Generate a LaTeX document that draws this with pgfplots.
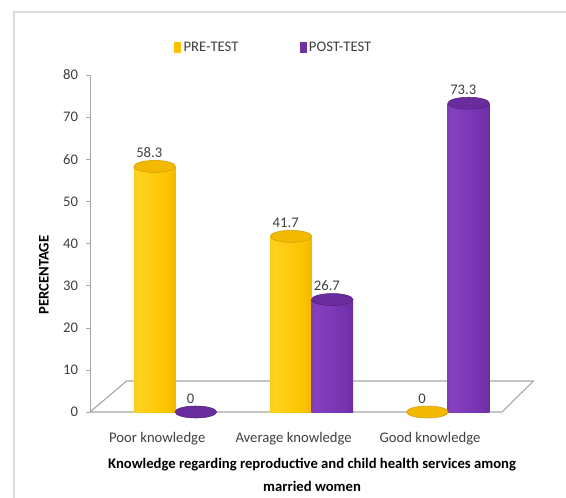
\documentclass[border=0pt]{standalone}
\usepackage{fontspec}
\setmainfont{Carlito}
\usepackage{pgfplots}
\pgfplotsset{compat=1.18}
\usepackage{pgfplotstable}
\definecolor{goldE}{HTML}{EAB000}
\definecolor{goldL}{HTML}{FFD21E}
\definecolor{goldM}{HTML}{FBC300}
\definecolor{goldD}{HTML}{D69C00}
\definecolor{goldT}{HTML}{F3B800}
\definecolor{purpE}{HTML}{6A2C9E}
\definecolor{purpL}{HTML}{8440BF}
\definecolor{purpM}{HTML}{7633AE}
\definecolor{purpD}{HTML}{55207F}
\definecolor{purpT}{HTML}{6A2C9C}
\definecolor{gold}{HTML}{FFC000}
\definecolor{purp}{HTML}{7030A0}
\definecolor{txt}{HTML}{404040}
\definecolor{framec}{HTML}{DADADA}
\definecolor{floorc}{HTML}{A6A6A6}

\pgfdeclarehorizontalshading{cylY}{100bp}{color(0bp)=(goldE); color(30bp)=(goldL); color(65bp)=(goldM); color(100bp)=(goldD)}
\pgfdeclarehorizontalshading{cylP}{100bp}{color(0bp)=(purpE); color(30bp)=(purpL); color(65bp)=(purpM); color(100bp)=(purpD)}

\pgfdeclareplotmark{cyltop}{%
  \pgfpathellipse{\pgfpointorigin}{\pgfqpoint{15.6pt}{0pt}}{\pgfqpoint{0pt}{4.5pt}}%
  \pgfusepathqfillstroke}

% x = plotted bar position (category index -/+ 0.151)
\pgfplotstableread{
x y
-0.151 58.3
0.849 41.7
1.849 0
}\pretest
\pgfplotstableread{
x y
0.151 0
1.151 26.7
2.151 73.3
}\posttest

\begin{document}
\begin{tikzpicture}
\useasboundingbox (0,0) rectangle (424.5pt,372.75pt);
\fill[white] (0,0) rectangle (424.5pt,372.75pt);
\draw[framec, line width=1.2pt] (10.5pt,-5pt) -- (10.5pt,363.75pt) -- (430pt,363.75pt);
\begin{axis}[
  at={(67.5pt,63.75pt)}, anchor=south west,
  width=309pt, height=252.75pt, scale only axis,
  xmin=-0.625, xmax=2.396, ymin=0, ymax=80,
  clip=false,
  axis lines=left,
  axis line style={-, floorc},
  x axis line style={draw=none},
  ytick={0,10,...,80},
  xtick={0,1,2},
  xticklabels={Poor knowledge, Average knowledge, Good knowledge},
  major x tick style={draw=none},
  tick align=outside, major tick length=3pt,
  y tick style={floorc},
  tick label style={font=\fontsize{11}{13}\selectfont, text=txt},
  xticklabel style={xshift=-13.5pt, yshift=-9pt},
  yticklabel style={xshift=-2.5pt},
  /pgf/number format/assume math mode=true,
  /pgf/number format/.cd, fixed, precision=1, /pgfplots/.cd,
  xlabel={Knowledge regarding reproductive and child health services among\\married women},
  xlabel style={at={(axis description cs:0.539,-0.124)}, anchor=north, align=center,
    font=\bfseries\fontsize{11}{17}\selectfont, text=black},
  ylabel={PERCENTAGE},
  ylabel style={at={(axis description cs:-0.1117,0.4065)}, anchor=center,
    font=\bfseries\fontsize{11}{13}\selectfont, text=black},
  legend style={at={(0.447,1.08)}, anchor=center, draw=none, fill=none,
    legend columns=2, font=\fontsize{11}{13}\selectfont, text=txt,
    /tikz/every even column/.append style={column sep=44pt}},
  legend cell align=left,
  barY/.style={ybar, bar width=0.306, bar shift=0pt, draw=none, shading=cylY, forget plot},
  barP/.style={ybar, bar width=0.306, bar shift=0pt, draw=none, shading=cylP, forget plot},
]
\addlegendimage{legend image code/.code={\fill[gold] (0pt,-3pt) rectangle (4.5pt,4.5pt);}}
\addlegendentry{PRE-TEST}
\addlegendimage{legend image code/.code={\fill[purp] (0pt,-3pt) rectangle (4.5pt,4.5pt);}}
\addlegendentry{POST-TEST}

\draw[floorc, line width=0.8pt, fill=white]
  (axis cs:-0.625,0) -- (axis cs:2.396,0) -- (axis cs:2.626,7.36) -- (axis cs:-0.357,7.36) -- cycle;

% one plot per bar so that each cylinder gets its own shading
\addplot[barY, restrict x to domain=-0.5:0.5] table {\pretest};
\addplot[barY, restrict x to domain=0.5:1.5] table {\pretest};
\addplot[barP, restrict x to domain=0.5:1.5] table {\posttest};
\addplot[barP, restrict x to domain=1.5:2.5] table {\posttest};

\addplot[only marks, mark=cyltop, mark options={fill=goldT, draw=goldD, line width=0.4pt},
  point meta=y, nodes near coords, forget plot,
  every node near coord/.append style={anchor=south, yshift=3pt, xshift=-4pt,
    font=\fontsize{11}{13}\selectfont, text=txt}] table {\pretest};
\addplot[only marks, mark=cyltop, mark options={fill=purpT, draw=purpD, line width=0.4pt},
  point meta=y, nodes near coords, forget plot,
  every node near coord/.append style={anchor=south, yshift=3pt, xshift=-4pt,
    font=\fontsize{11}{13}\selectfont, text=txt}] table {\posttest};
\end{axis}
\end{tikzpicture}
\end{document}
